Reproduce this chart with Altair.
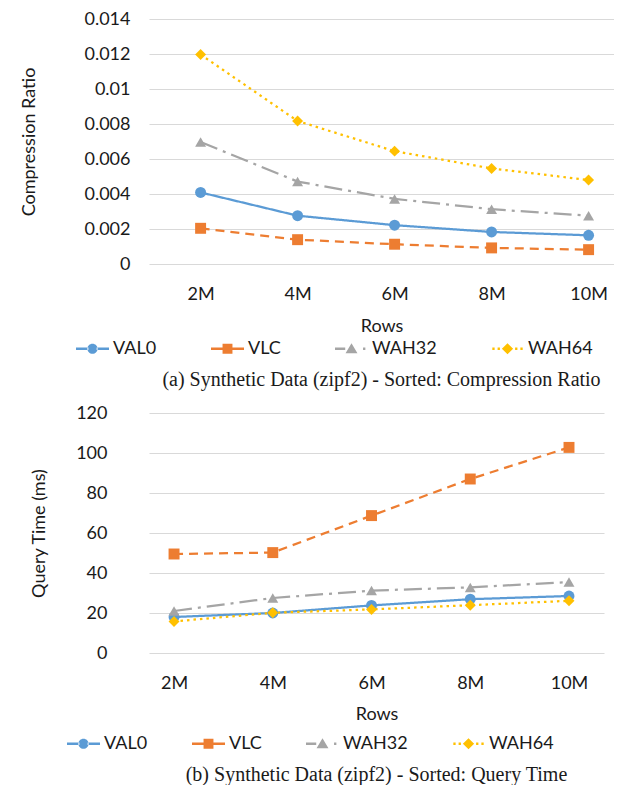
import altair as alt
import pandas as pd

rows = ["2M", "4M", "6M", "8M", "10M"]
series = ["VAL0", "VLC", "WAH32", "WAH64"]
colors = ["#5B9BD5", "#ED7D31", "#A5A5A5", "#FFC000"]

ratio_val0 = [0.00409, 0.00276, 0.00222, 0.00183, 0.00164]
ratio_vlc = [0.00204, 0.00139, 0.00113, 0.00092, 0.00082]
ratio_wah32 = [0.00697, 0.00471, 0.00372, 0.00313, 0.00276]
ratio_wah64 = [0.01197, 0.00817, 0.00645, 0.00546, 0.00480]

time_val0 = [18.0, 20.0, 23.8, 26.9, 28.5]
time_vlc = [49.5, 50.2, 68.7, 87.0, 102.8]
time_wah32 = [21.0, 27.5, 31.2, 32.8, 35.5]
time_wah64 = [15.8, 20.1, 21.8, 23.9, 26.1]

ratio_ticks = [0, 0.002, 0.004, 0.006, 0.008, 0.01, 0.012, 0.014]
time_ticks = [0, 20, 40, 60, 80, 100, 120]

caption_a = "(a) Synthetic Data (zipf2) - Sorted: Compression Ratio"
caption_b = "(b) Synthetic Data (zipf2) - Sorted: Query Time"

dashes = [[1, 0], [9, 6], [18, 6, 3, 6], [2.5, 4]]
shapes = ["circle", "square", "triangle-up", "diamond"]

# legend glyphs: line stub + marker, drawn in the unit box [-1, 1]
legend_paths = [
    "M-1,-0.07H-0.25V0.07H-1Z M0.25,-0.07H1V0.07H0.25Z "
    "M-0.31,0A0.31,0.31,0,1,0,0.31,0A0.31,0.31,0,1,0,-0.31,0Z",
    "M-1,-0.07H-0.25V0.07H-1Z M0.25,-0.07H1V0.07H0.25Z "
    "M-0.3,-0.3H0.3V0.3H-0.3Z",
    "M-1,-0.07H-0.38V0.07H-1Z M0.7,-0.07H0.84V0.07H0.7Z "
    "M0,-0.34L0.36,0.28L-0.36,0.28Z",
    "M-0.92,-0.07H-0.78V0.07H-0.92Z M-0.6,-0.07H-0.46V0.07H-0.6Z "
    "M0.46,-0.07H0.6V0.07H0.46Z M0.78,-0.07H0.92V0.07H0.78Z "
    "M0,-0.34L0.34,0L0,0.34L-0.34,0Z",
]

FONT = "Lato"
TXT = "#1a1a1a"


def make_df(vals):
    recs = []
    for s, v in zip(series, vals):
        for r, y in zip(rows, v):
            recs.append({"Rows": r, "Series": s, "Value": y})
    return pd.DataFrame(recs)


def panel(df, ticks, fmt, ytitle, xpad, xalign, width, height, ytitle_pad,
          label_pad, yoffset, xtitle_pad, legend_x, legend_y, legend_gap,
          cap_offset, caption):
    x = alt.X("Rows:N", sort=rows,
              scale=alt.Scale(type="point", domain=rows, padding=xpad,
                              align=xalign),
              axis=alt.Axis(title="Rows", labelAngle=0, grid=False,
                            labelPadding=21, titlePadding=xtitle_pad))
    y = alt.Y("Value:Q",
              scale=alt.Scale(domain=[ticks[0], ticks[-1]], nice=False),
              axis=alt.Axis(values=ticks, format=fmt, title=ytitle,
                            titlePadding=ytitle_pad, labelPadding=label_pad,
                            offset=yoffset, grid=True))
    color = alt.Color("Series:N", scale=alt.Scale(domain=series, range=colors),
                      legend=None)
    base = alt.Chart(df)
    lines = base.mark_line(strokeWidth=2.25).encode(
        x=x, y=y, color=color,
        strokeDash=alt.StrokeDash("Series:N",
                                  scale=alt.Scale(domain=series, range=dashes),
                                  legend=None))
    pts = base.mark_point(filled=True, opacity=1, size=120).encode(
        x=x, y=y, color=color,
        shape=alt.Shape("Series:N",
                        scale=alt.Scale(domain=series, range=shapes),
                        legend=None))
    leg = alt.Legend(orient="none", legendX=legend_x, legendY=legend_y,
                     direction="horizontal", columns=4, title=None,
                     symbolSize=1089, symbolStrokeWidth=0, symbolOpacity=1,
                     labelFont=FONT, labelFontSize=18, labelColor=TXT,
                     labelOffset=4, columnPadding=legend_gap)
    dummy = base.transform_filter("false").mark_point(
        filled=True, opacity=1, strokeWidth=0).encode(
        fill=alt.Fill("Series:N", scale=alt.Scale(domain=series, range=colors),
                      legend=leg),
        shape=alt.Shape("Series:N",
                        scale=alt.Scale(domain=series, range=legend_paths),
                        legend=leg))
    return alt.layer(lines, pts, dummy).resolve_scale(
        shape="independent", fill="independent").resolve_legend(
        shape="independent", fill="independent").properties(
        width=width, height=height,
        title=alt.TitleParams(text=caption, orient="bottom", anchor="middle",
                              font="Liberation Serif", fontSize=20,
                              fontWeight="normal", color=TXT,
                              offset=cap_offset))


top = panel(make_df([ratio_val0, ratio_vlc, ratio_wah32, ratio_wah64]),
            ratio_ticks, "~g", "Compression Ratio", 0.397, 0.67, 465, 245,
            45, 19, 0, 14, -73, 313, 54, 12, caption_a)
bottom = panel(make_df([time_val0, time_vlc, time_wah32, time_wah64]),
               time_ticks, "d", "Query Time (ms)", 0.304, 0.417, 455, 240,
               27, 18, 24, 13, -82, 314, 44, 12, caption_b)

chart = alt.vconcat(top, bottom, spacing=14).properties(
    padding={"left": 12, "top": 2, "right": 0, "bottom": 0}
).configure_view(stroke=None).configure_axis(
    labelFont=FONT, labelFontSize=18, labelColor=TXT,
    titleFont=FONT, titleFontSize=18, titleFontWeight="normal",
    titleColor=TXT, domain=False, ticks=False, tickSize=0,
    gridColor="#d9d9d9", gridWidth=1
)

chart.save("out.html", embed_options={"renderer": "svg", "actions": False})
